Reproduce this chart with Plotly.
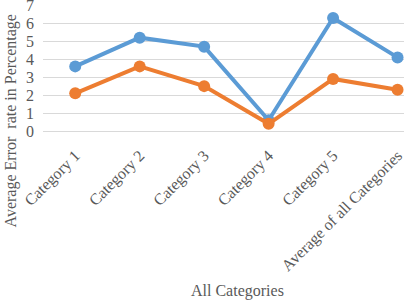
import plotly.graph_objects as go

categories = ["Category 1", "Category 2", "Category 3", "Category 4", "Category 5", "Average of all Categories"]
series_blue = [3.6, 5.2, 4.7, 0.6, 6.3, 4.1]
series_orange = [2.1, 3.6, 2.5, 0.4, 2.9, 2.3]
y_ticks = [0, 1, 2, 3, 4, 5, 6, 7]

font_family = "Liberation Serif, Times New Roman, serif"
fig = go.Figure()
fig.add_trace(go.Scatter(x=categories, y=series_blue, mode="lines+markers",
                         line=dict(color="#5B9BD5", width=4), marker=dict(size=12, color="#5B9BD5"),
                         cliponaxis=False))
fig.add_trace(go.Scatter(x=categories, y=series_orange, mode="lines+markers",
                         line=dict(color="#ED7D31", width=4), marker=dict(size=12, color="#ED7D31"),
                         cliponaxis=False))

fig.update_layout(
    width=404, height=301,
    margin=dict(l=43, r=0, t=5, b=170),
    paper_bgcolor="white", plot_bgcolor="white",
    showlegend=False,
    font=dict(family=font_family, color="#595959", size=16),
    xaxis=dict(type="category", range=[-0.5, 5.1], tickangle=-45, showgrid=False,
               showline=True, linecolor="#D9D9D9", linewidth=1, ticks="", automargin=False,
               ticklabelstandoff=8,
               tickfont=dict(size=16, color="#595959")),
    yaxis=dict(range=[0, 7.02], tickvals=y_ticks, showgrid=True, gridcolor="#D9D9D9",
               gridwidth=1, zeroline=False, showline=False, ticks="", automargin=False,
               ticklabeloverflow="allow", ticklabelstandoff=8,
               tickfont=dict(size=16, color="#595959")),
    annotations=[
        dict(text="Average Error  rate in Percentage", xref="paper", yref="paper",
             x=-0.09, y=0.08, textangle=-90, showarrow=False, xanchor="center", yanchor="middle",
             font=dict(size=16, color="#595959", family=font_family)),
        dict(text="All Categories", xref="paper", yref="paper",
             x=0.54, y=-1.27, showarrow=False, xanchor="center", yanchor="middle",
             font=dict(size=16, color="#595959", family=font_family)),
    ],
)
fig.write_html("out.html", config={"displayModeBar": False},
               post_script="document.body.style.margin='0';")
